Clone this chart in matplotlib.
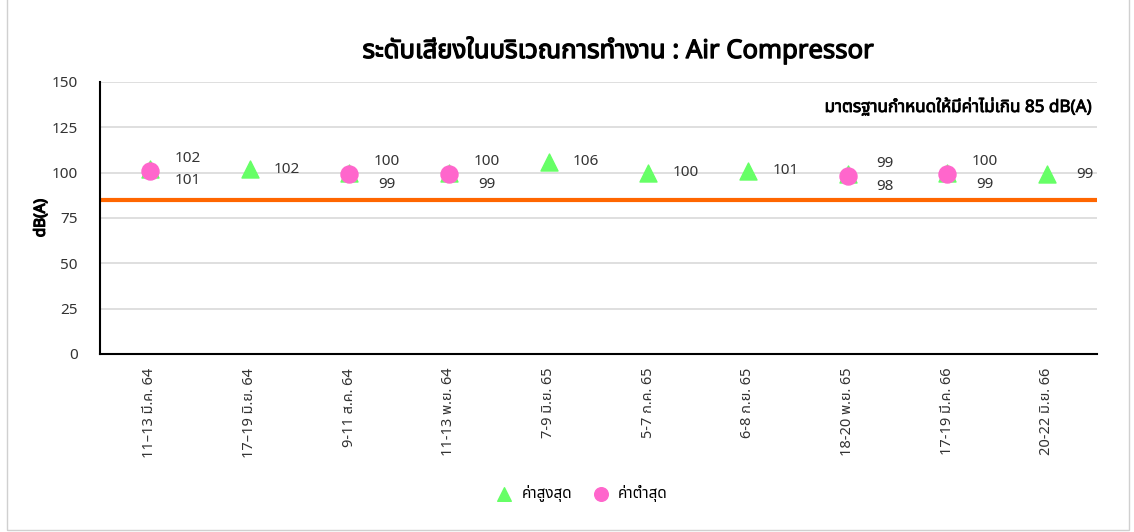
import matplotlib
matplotlib.use("Agg")
import matplotlib.pyplot as plt
import matplotlib.patheffects as pe
from matplotlib.patches import Rectangle

# ฟอนต์ไทย (ถ้ามี) แล้วค่อยถอยไปใช้ฟอนต์อื่น
plt.rcParams['font.family'] = ['Noto Sans Thai', 'Tahoma', 'Loma', 'Garuda', 'Norasi',
                               'DejaVu Sans', 'Noto Sans', 'Liberation Sans']

# ข้อมูลระดับเสียง
วันที่ = ['11–13 มี.ค. 64', '17–19 มิ.ย. 64', '9-11 ส.ค. 64', '11-13 พ.ย. 64', '7-9 มิ.ย. 65',
          '5-7 ก.ค. 65', '6-8 ก.ย. 65', '18-20 พ.ย. 65', '17-19 มี.ค. 66', '20-22 มิ.ย. 66']
ค่าสูงสุด = [102, 102, 100, 100, 106, 100, 101, 99, 100, 99]
ค่าต่ำสุด = [101, None, 99, 99, None, None, None, 98, 99, None]
มาตรฐาน = 85

# ตัวหนาแบบลากเส้นขอบ เพราะฟอนต์ไทยไม่มีน้ำหนัก bold
หนา = [pe.withStroke(linewidth=0.9, foreground='black')]

fig = plt.figure(figsize=(11.34, 5.32), dpi=100)
ax = fig.add_axes([0.0882, 0.3346, 0.879, 0.5113])

x = list(range(len(วันที่)))
xs_min = [i for i in x if ค่าต่ำสุด[i] is not None]
ys_min = [ค่าต่ำสุด[i] for i in xs_min]

ax.axhline(มาตรฐาน, color='#FF6600', linewidth=3, zorder=2)
ax.scatter(x, ค่าสูงสุด, marker='^', s=150, color='#66FF66', zorder=3, label='ค่าสูงสุด')
ax.scatter(xs_min, ys_min, marker='o', s=150, color='#FF66CC', zorder=4, label='ค่าต่ำสุด')

# ป้ายตัวเลข
for i in x:
    if ค่าต่ำสุด[i] is None:
        ax.annotate(str(ค่าสูงสุด[i]), (i, ค่าสูงสุด[i]), xytext=(27, 0), textcoords='offset points',
                    ha='center', va='center', fontsize=11, color='#333333')
    else:
        ax.annotate(str(ค่าสูงสุด[i]), (i, ค่าต่ำสุด[i]), xytext=(27, 9), textcoords='offset points',
                    ha='center', va='center', fontsize=11, color='#333333')
        ax.annotate(str(ค่าต่ำสุด[i]), (i, ค่าต่ำสุด[i]), xytext=(27, -7), textcoords='offset points',
                    ha='center', va='center', fontsize=11, color='#333333')

ax.set_xlim(-0.5, len(วันที่) - 0.5)
ax.set_ylim(0, 150)
ax.set_yticks(range(0, 151, 25))
ax.set_xticks(x)
ax.set_xticklabels(วันที่, rotation=90, fontsize=10.5, color='#333333')
ax.tick_params(axis='both', length=0, pad=10)
ax.tick_params(axis='y', labelsize=11, colors='#333333', pad=16)
ax.grid(axis='y', color='#D9D9D9', linewidth=1.2)
ax.set_axisbelow(True)
for s in ['top', 'right']:
    ax.spines[s].set_visible(False)
ax.spines['left'].set_color('black')
ax.spines['bottom'].set_color('black')
ax.spines['left'].set_linewidth(1.5)
ax.spines['bottom'].set_linewidth(1.5)

ax.set_ylabel('dB(A)', fontsize=11, labelpad=2, path_effects=หนา)
fig.text(0.545, 0.905, 'ระดับเสียงในบริเวณการทำงาน : Air Compressor',
         ha='center', va='center', fontsize=18.5, path_effects=หนา)
ax.text(0.995, 0.91, 'มาตรฐานกำหนดให้มีค่าไม่เกิน 85 dB(A)', transform=ax.transAxes,
        ha='right', va='center', fontsize=12.3, path_effects=[pe.withStroke(linewidth=0.6, foreground='black')])

fig.legend(loc='center', bbox_to_anchor=(0.51, 0.072), ncol=2, frameon=False,
           fontsize=11, handletextpad=0.1, columnspacing=0.9, markerscale=0.8)

fig.patches.append(Rectangle((0.006, 0.004), 0.99, 1.2, transform=fig.transFigure,
                             fill=False, edgecolor='#D0D0D0', linewidth=1))

fig.savefig('out.png', dpi=100)
